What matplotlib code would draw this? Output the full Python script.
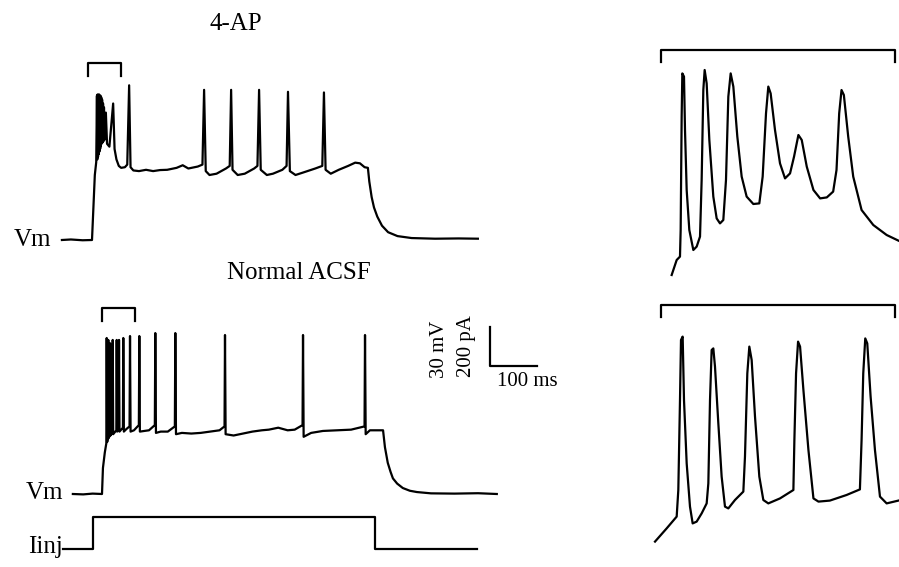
import matplotlib
matplotlib.use("Agg")
import matplotlib.pyplot as plt

# ---------------------------------------------------------------- data
# 4-AP whole-cell recording (time in ms from current onset, Vm in mV)
VM_4AP_T = [-64, -45, -20, 0, 3, 6, 9,
            10.5, 11.3, 12, 12.8, 13.5, 14.3, 15, 15.8, 16.5, 17.3, 18, 18.8,
            19.5, 20.5, 21.5, 22.5, 23.5, 24.5, 25.5, 26.5, 29.5, 32, 37,
            45, 48, 52, 57, 62, 70, 75, 79, 82, 88, 100,
            115, 130, 145, 160, 180, 193, 205, 225, 235, 238.5, 242, 250, 265, 285, 293,
            296, 299, 310, 325, 345, 352, 355.5, 359, 372, 385, 405, 414,
            417, 421, 433, 450, 475, 490, 493.5, 497, 508, 525, 545, 560, 570,
            580, 587, 590, 595, 600, 607, 617, 630, 650, 680, 730, 780, 821]
VM_4AP_V = [-70, -69.6, -70.2, -70, -45, -20, -10,
            41, -8, 42, -6, 41, -4, 42, -2, 41, 0, 41, 2,
            40, 4, 38, 5, 35, 6, 32, 7, 28, 4, 1.8,
            35, 0, -8, -13, -14.5, -14, -12, 49, -14, -16.5, -17,
            -16, -17, -16.2, -16, -14.5, -12.5, -15, -13.5, -12, 45.5, -17, -20, -19, -15, -13,
            45.5, -16, -20, -19, -15, -13, 45.5, -16, -20, -19, -16, -13,
            44, -17, -20, -18, -15, -13, 43.5, -16, -19, -16, -13, -10.5, -11,
            -14, -14.5, -25, -37, -45, -52, -59, -64, -67, -68.5, -69, -68.8, -69]

# Normal ACSF recording
VM_ACSF_T = [-62, -40, -20, 0, 2, 6, 9.2,
             10, 11, 12.6, 13.4, 14.4, 16.2, 17, 18, 22, 22.8, 23.8, 30.5, 31.3,
             32.3, 35.4, 36.2, 37.2, 44.5, 45.3, 46.5, 52, 58.6, 59.6, 60.8, 68,
             78.4, 79.4, 80.6, 90, 100, 112.4, 113.4, 114.8, 125, 140, 155, 156,
             157.4, 170, 190, 210, 230, 250, 260.7, 261.7, 263, 280, 300, 320,
             340, 355, 375, 395, 410, 426.7, 427.7, 429, 445, 470, 500, 530,
             558.6, 559.6, 561, 570, 585, 598, 602, 608, 614, 619, 628, 640, 655,
             670, 700, 750, 800, 840]
VM_ACSF_V = [-70, -70.3, -69.7, -70, -50, -38, -31,
             50, -30, -27, 48.5, -27, -25, 46, -25, -23, 48.5, -24, -21, 48.5,
             -22, -20, 48.5, -22, -19, 50, -22, -20, -18, 51.5, -22, -21,
             -17, 51.5, -22, -21.5, -21, -17, 53.8, -23, -22, -22, -18, 53.8,
             -24, -23, -23.5, -23, -22, -21, -18, 52.3, -24, -25, -23.5, -22,
             -21, -20.5, -19, -21, -20.5, -17, 52.3, -26, -23, -21.5, -21, -20.5,
             -18, 52.3, -24, -21, -21, -21, -34, -46, -53, -58, -62, -65.4, -67.5,
             -68.5, -69.5, -69.7, -69.4, -70]

# injected current step (pA)
IINJ_T = [-64, 0, 0, 600, 600, 817]
IINJ_PA = [0, 0, 165, 165, 0, 0]

# expanded burst, 4-AP (ms within the 70 ms window, mV)
BURST_4AP_T = [3.19, 4.69, 5.68, 5.88, 6.18, 6.38, 6.88, 7.18, 7.68, 8.47, 9.67,
               10.67, 11.67, 12.16, 12.66, 13.06, 13.66, 14.46, 15.65, 16.65,
               17.65, 18.64, 19.44, 20.14, 20.84, 21.64, 22.83, 24.13, 25.62,
               27.62, 29.41, 30.41, 31.41, 32.1, 32.8, 34.1, 35.6, 37.1, 38.6,
               39.8, 41.1, 42.1, 43.6, 45.6, 47.6, 49.6, 51.5, 52.5, 53.3, 54.0,
               54.7, 56.0, 57.5, 60.0, 63.5, 67.5, 71.0]
BURST_4AP_V = [-52.5, -45, -43.3, -30, 26.7, 48.3, 46.7, 20, -10, -30, -40,
               -38.3, -33.3, -5, 40, 50, 43.3, 15, -13.3, -24.2,
               -26.7, -25, -5, 36.7, 48.3, 41.7, 16.7, -3.3, -13.3,
               -17, -16.7, -3.3, 28.3, 41.7, 38.3, 20, 3.3, -4.2, -1.7,
               6.7, 17.5, 15, 1.7, -10, -14.2, -13.7, -10.8, 0, 28.3, 40,
               37.5, 16.7, -3.3, -20, -27.5, -32.5, -35.3]

# expanded burst, normal ACSF
BURST_ACSF_T = [-1.79, 1.69, 4.69, 5.18, 5.68, 5.98, 6.48, 6.88, 7.68, 8.67,
                9.47, 10.67, 12.16, 13.66, 14.16, 14.66, 15.15, 15.65, 16.15,
                17.15, 18.14, 19.14, 20.14, 22.13, 24.63, 25.12, 25.82, 26.42,
                27.12, 28.12, 29.41, 30.61, 32.1, 35.6, 39.6, 39.9, 40.4, 41.0,
                41.6, 42.6, 44.1, 45.6, 47.1, 50.5, 55.5, 59.5, 60.0, 60.5, 61.1,
                61.7, 62.7, 64.0, 65.5, 67.5, 71.0]
BURST_ACSF_V = [-55.8, -49.2, -43.3, -30, 15, 45, 46.7, 15, -16.7, -38.3,
                -46.7, -45.8, -41.7, -36.7, -26.7, 15, 40, 40.8, 31.7,
                3.3, -23.3, -38.3, -39.2, -35, -30.8, -13.3, 28.3, 41.7,
                35, 6.7, -23.3, -35, -36.7, -34.2, -30, -5, 28.3, 44.2,
                41.7, 20, -10, -34.2, -35.8, -35.3, -32.5, -29.7, -5, 28.3, 45.8,
                43.3, 16.7, -10, -33.3, -36.7, -35.3]

WINDOW_MS = 70          # width of the expanded window
SCALE_MS, SCALE_MV, SCALE_PA = 100, 30, 200

# ---------------------------------------------------------------- layout
W, H = 899, 567
fig = plt.figure(figsize=(W / 100, H / 100), dpi=100)
fig.patch.set_facecolor("white")
FONT = "Liberation Serif"
LW = 1.6


def trace_axes(rect_px, anchor_px, anchor_val, px_per_x, px_per_y):
    """Axes placed in pixel space; anchor pixel maps to anchor data value."""
    x0, y0, x1, y1 = rect_px
    ax = fig.add_axes([x0 / W, 1 - y1 / H, (x1 - x0) / W, (y1 - y0) / H])
    axp, ayp = anchor_px
    tv, vv = anchor_val
    ax.set_xlim(tv + (x0 - axp) / px_per_x, tv + (x1 - axp) / px_per_x)
    ax.set_ylim(vv - (y1 - ayp) / px_per_y, vv + (ayp - y0) / px_per_y)
    ax.axis("off")
    return ax


def bracket(ax, t0, width, v, tick):
    ax.plot([t0, t0, t0 + width, t0 + width], [v - tick, v, v, v - tick],
            color="black", lw=LW, clip_on=False)


def ftext(x, y, s, **kw):
    fig.text(x / W, 1 - y / H, s, family=FONT, color="black", **kw)


MS_PX, MV_PX, PA_PX = 0.47, 1.3, 0.195

ax_top = trace_axes((40, 40, 520, 265), (92, 240), (0, -70), MS_PX, MV_PX)
ax_top.plot(VM_4AP_T, VM_4AP_V, color="black", lw=LW, clip_on=False)
bracket(ax_top, -8.5, WINDOW_MS, 66.2, 10)

ax_bot = trace_axes((40, 295, 580, 510), (102, 494), (0, -70), MS_PX, MV_PX)
ax_bot.plot(VM_ACSF_T, VM_ACSF_V, color="black", lw=LW, clip_on=False)
bracket(ax_bot, 0, WINDOW_MS, 73.1, 10)
# scale bar
sb_t, sb_v = 825.5, 28.5
ax_bot.plot([sb_t, sb_t, sb_t + SCALE_MS], [sb_v + SCALE_MV, sb_v, sb_v],
            color="black", lw=LW, clip_on=False)

ax_inj = trace_axes((40, 505, 520, 565), (93, 549), (0, 0), MS_PX, PA_PX)
ax_inj.plot(IINJ_T, IINJ_PA, color="black", lw=LW, clip_on=False)

INSET_MS_PX, INSET_MV_PX = 3.343, 2.0
ax_in1 = trace_axes((640, 30, 899, 290), (661, 250), (0, -40), INSET_MS_PX, INSET_MV_PX)
ax_in1.plot(BURST_4AP_T, BURST_4AP_V, color="black", lw=LW, clip_on=False)
bracket(ax_in1, 0, WINDOW_MS, 60, 6)

ax_in2 = trace_axes((640, 290, 899, 560), (661, 510), (0, -40), INSET_MS_PX, INSET_MV_PX)
ax_in2.plot(BURST_ACSF_T, BURST_ACSF_V, color="black", lw=LW, clip_on=False)
bracket(ax_in2, 0, WINDOW_MS, 62.5, 6)

# ---------------------------------------------------------------- labels
ftext(236, 24, "4-AP", fontsize=18, ha="center", va="center")
ftext(299, 273, "Normal ACSF", fontsize=18, ha="center", va="center")
ftext(51, 246, "Vm", fontsize=18, ha="right", va="baseline")
ftext(63, 499, "Vm", fontsize=18, ha="right", va="baseline")
ftext(63, 553, "Iinj", fontsize=18, ha="right", va="baseline")
ftext(440, 349, f"{SCALE_MV} mV", fontsize=15, ha="center", va="center", rotation=90)
ftext(466, 346, f"{SCALE_PA} pA", fontsize=15, ha="center", va="center", rotation=90)
ftext(527, 381, f"{SCALE_MS} ms", fontsize=15, ha="center", va="center")

fig.savefig("out.png", dpi=100, facecolor="white")
